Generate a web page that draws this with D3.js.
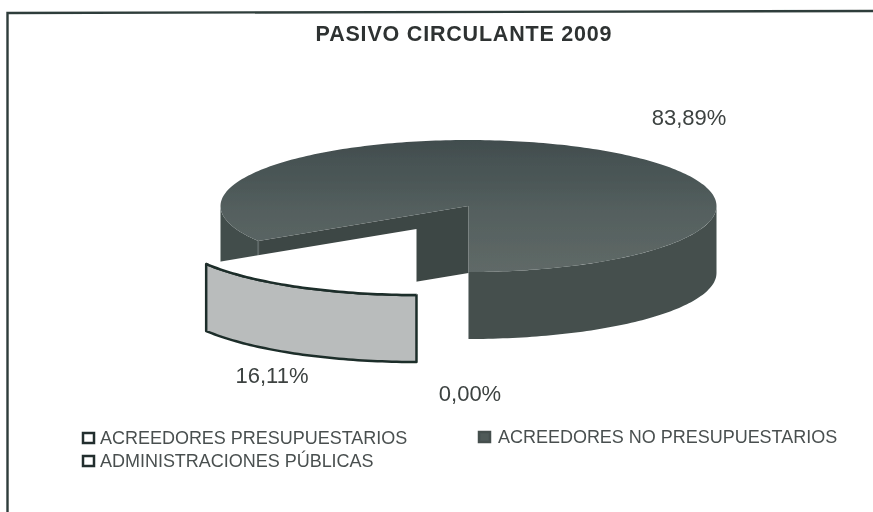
<!DOCTYPE html>
<html><head><meta charset="utf-8">
<script src="https://cdnjs.cloudflare.com/ajax/libs/d3/7.8.5/d3.min.js"></script>
<style>html,body{margin:0;padding:0;background:#fff}svg{display:block}text{font-family:"Liberation Sans",Arial,sans-serif}</style>
</head><body><svg id="c" width="873" height="512"></svg>
<script>
const title = "PASIVO CIRCULANTE 2009";
const categories = ["ACREEDORES PRESUPUESTARIOS","ACREEDORES NO PRESUPUESTARIOS","ADMINISTRACIONES PÚBLICAS"];
const values = [0.00, 83.89, 16.11];
const valueLabels = ["0,00%","83,89%","16,11%"];
const fills = ["#ffffff","#4f5a59","#b9bcbc"];

const svg = d3.select("#c");
const defs = svg.append("defs");
const gt = defs.append("linearGradient").attr("id","gTop").attr("x1",0).attr("y1",0).attr("x2",0).attr("y2",1);
gt.append("stop").attr("offset",0).attr("stop-color","#414d4e");
gt.append("stop").attr("offset",0.6).attr("stop-color","#566160");
gt.append("stop").attr("offset",1).attr("stop-color","#5f6967");
defs.append("filter").attr("id","soft").attr("filterUnits","userSpaceOnUse").attr("x",0).attr("y",0).attr("width",873).attr("height",512)
  .append("feGaussianBlur").attr("stdDeviation",0.5);
const root = svg.append("g").attr("filter","url(#soft)");

root.append("path").attr("d","M7.5,512V13L873,11").attr("fill","none").attr("stroke","#2f3d3a").attr("stroke-width",2.4);

root.append("text").attr("x",464).attr("y",41).attr("text-anchor","middle")
  .attr("font-size",21.5).attr("font-weight","bold").attr("letter-spacing",0.8).attr("fill","#2e3332").text(title);

// pie geometry
const cx=468.5, cy=206, rx=248, ry=66, depth=67;
const explode={x:-52,y:23};
const pie=d3.pie().sort(null).value(d=>d).startAngle(238/180*Math.PI).endAngle(238/180*Math.PI+2*Math.PI);
const arcs=pie(values);
const sx=d3.scaleLinear().domain([-1,1]).range([cx-rx,cx+rx]);
const sy=d3.scaleLinear().domain([-1,1]).range([cy-ry,cy+ry]);
const pt=(a,dx=0,dy=0)=>[sx(Math.sin(a))+dx,sy(-Math.cos(a))+dy];
function arcPts(a0,a1,dx,dy){const n=Math.max(2,Math.ceil(Math.abs(a1-a0)/0.02));return d3.range(n+1).map(i=>pt(a0+(a1-a0)*i/n,dx,dy));}
const line=d3.line();
const center=(dx=0,dy=0)=>[cx+dx,cy+dy];

// dark slice
const dark=arcs[1];
const g=root.append("g");
g.append("path").attr("d",line([center(),pt(dark.startAngle),pt(dark.startAngle,0,depth),center(0,depth)])+"Z").attr("fill","#3d4644");
const wallSeg=(a0,a1,col)=>g.append("path").attr("d",line(arcPts(a0,a1,0,0).concat(arcPts(a1,a0,0,depth)))+"Z").attr("fill",col);
wallSeg(dark.startAngle,1.5*Math.PI,"#434e4c");
wallSeg(2.5*Math.PI,dark.endAngle,"#444f4d");
g.append("path").attr("d",line([center()].concat(arcPts(dark.startAngle,dark.endAngle,0,0)))+"Z").attr("fill","url(#gTop)");
g.append("path").attr("d",line([pt(dark.startAngle),pt(dark.startAngle,0,depth)])).attr("stroke","#5f6967").attr("stroke-width",2);

// exploded slice
const adm=arcs[2], e=explode;
const sl=root.append("g").attr("fill","none").attr("stroke","#1f2d2a").attr("stroke-width",2.5).attr("stroke-linejoin","round");
sl.append("path").attr("d",line(arcPts(adm.startAngle,adm.endAngle,e.x,e.y).concat(arcPts(adm.endAngle,adm.startAngle,e.x,e.y+depth)))+"Z").attr("fill",fills[2]);
sl.append("path").attr("d",line([center(e.x,e.y)].concat(arcPts(adm.startAngle,adm.endAngle,e.x,e.y)))+"Z").attr("fill","#fff").attr("stroke","none");
sl.append("path").attr("d",line(arcPts(adm.startAngle,adm.endAngle,e.x,e.y)));

// labels
const lab=[[470,401],[689,125],[272,383]];
root.selectAll("text.v").data(valueLabels).join("text").attr("class","v")
 .attr("x",(d,i)=>lab[i][0]).attr("y",(d,i)=>lab[i][1]).attr("text-anchor","middle")
 .attr("font-size",22).attr("fill","#3c4241").text(d=>d);

// legend
const leg=[[83,438],[479,437],[83,461]];
const lg=root.selectAll("g.l").data(categories).join("g").attr("class","l").attr("transform",(d,i)=>`translate(${leg[i][0]},${leg[i][1]})`);
lg.append("rect").attr("x",0).attr("y",-5).attr("width",11).attr("height",10)
  .attr("fill",(d,i)=>i==1?fills[1]:"#fff").attr("stroke",(d,i)=>i==1?"#454f4e":"#232f2d").attr("stroke-width",2.5);
lg.append("text").attr("x",(d,i)=>i==1?19:17).attr("y",6).attr("font-size",18).attr("letter-spacing",-0.02).attr("fill","#4a5050").text(d=>d);
</script></body></html>
